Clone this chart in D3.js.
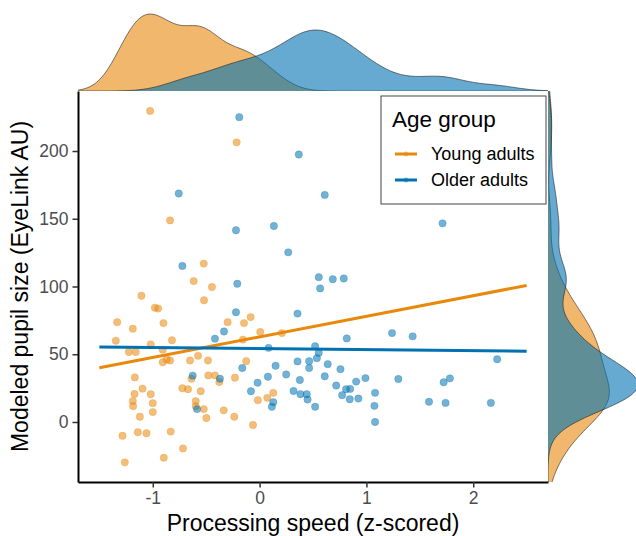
<!DOCTYPE html>
<html>
<head>
<meta charset="utf-8">
<script src="https://cdn.jsdelivr.net/npm/d3@7"></script>
<style>
  body { margin: 0; background: #fff; }
  svg { display: block; font-family: "Liberation Sans", Arial, sans-serif; }
</style>
</head>
<body>
<svg id="chart" width="636" height="536"></svg>
<script>
// Group names and colours
const groups = ["Young adults", "Older adults"];
const groupColors = ["#E8890C", "#0072B2"];

// Young adults: processing speed (z) and pupil size
const youngX = [-1.025, -0.215, -0.838, -0.523, -0.617, -0.446, -1.106, -0.98, -0.95, -0.52,
  -1.333, -0.9, -0.299, -0.146, -0.084, -1.187, 0.006, 0.209, -1.346, -1.019,
  -0.82, -0.156, -1.224, -1.159, -0.907, -0.576, -0.869, -0.838, -0.907, -0.651,
  -0.483, -0.125, -1.168, -0.638, -0.48, -0.418, -0.377, -0.231, -1.096, -0.723,
  -0.67, -0.551, -1.171, -1.019, 0.128, 0.072, -0.016, -1.187, -1.184, -1.0,
  -1.0, -0.598, -0.598, -0.523, -0.336, -1.121, -0.498, -0.237, -0.062, -1.283,
  -1.14, -1.059, -0.832, -0.717, -0.897, -1.262];
const youngY = [229.6, 206.4, 148.8, 116.9, 104, 99.6, 93.2, 84.4, 83.7, 89.8,
  73.7, 73, 73.7, 73, 77.4, 68.8, 66.4, 65.6, 60, 57.3,
  60.3, 60.8, 51.7, 51.7, 53.4, 48.8, 46.1, 45.4, 44.1, 45.4,
  45.4, 44.9, 32.9, 31.9, 34.4, 34.4, 29.5, 32.7, 24.6, 24.9,
  24.2, 22.7, 20.7, 20.5, 21.5, 17.8, 16.1, 15.4, 11.7, 13.9,
  7.3, 15.4, 11.7, 9.5, 8.6, 3.9, 2.9, 3.9, -2.2, -10.2,
  -7.6, -8.3, -7.1, -19.5, -26.4, -29.8];

// Older adults
const olderX = [-0.19, 0.367, -0.757, -0.221, 0.134, 0.268, -0.723, -0.209, 0.61, 1.713,
  0.554, 0.685, 0.788, 0.567, -0.221, 0.355, -0.333, -0.418, 0.084, 0.355,
  0.464, -0.162, 0.15, 0.464, -0.626, -0.371, 0.078, 0.249, 0.377, -0.019,
  -0.081, 0.318, 0.383, 0.442, 0.449, 0.128, 0.115, -0.586, 1.24, 1.433,
  0.816, 0.52, 0.554, 0.536, 2.224, 0.638, 0.757, 0.61, 0.991, 1.299,
  1.782, 1.723, 0.904, 0.717, 0.81, 0.848, 0.773, 0.844, 0.925, 1.081,
  1.075, 1.081, 0.52, 1.586, 1.741, 2.165];
const olderY = [225, 197.4, 168.6, 141.5, 144.7, 125.2, 115.2, 102, 167.6, 146.6,
  106.9, 105.4, 105.9, 98.6, 81, 80, 66.8, 61.5, 54.7, 44.7,
  44.9, 39.8, 41.5, 39.8, 34.2, 31.9, 33.4, 35.1, 31, 29,
  22.7, 22.9, 20.5, 20.5, 16.6, 14.6, 11.2, 9.5, 65.6, 63.2,
  61.7, 55.9, 51, 47.1, 46.3, 42.7, 39, 33.7, 32.4, 31.7,
  32.2, 29.3, 29.8, 26.9, 24.2, 24.4, 19.8, 16.8, 17.3, 21.5,
  11.9, 0, 11.2, 14.9, 14.1, 14.1];

// Fitted lines (full range), endpoints
const fitX = [-1.5, 2.5];
const youngFitY = [40, 100.8];
const olderFitY = [55.4, 52.2];

// Axis ticks
const xTicks = [-1, 0, 1, 2];
const xTickLabels = ["-1", "0", "1", "2"];
const yTicks = [0, 50, 100, 150, 200];
const yTickLabels = ["0", "50", "100", "150", "200"];

const svg = d3.select("#chart");

// Main panel
const panel = { left: 78, right: 548, top: 91, bottom: 482 };
const x = d3.scaleLinear().domain([-1.7, 2.7]).range([panel.left, panel.right]);
const y = d3.scaleLinear().domain([-44.3, 244.3]).range([panel.bottom, panel.top]);

const series = [
  { name: groups[0], color: groupColors[0], xs: youngX, ys: youngY, fit: youngFitY },
  { name: groups[1], color: groupColors[1], xs: olderX, ys: olderY, fit: olderFitY }
];

// Kernel density (gaussian, bw.nrd0 like R)
function bwNrd0(v) {
  const s = d3.deviation(v);
  const sorted = v.slice().sort(d3.ascending);
  const iqr = d3.quantileSorted(sorted, 0.75) - d3.quantileSorted(sorted, 0.25);
  return 0.9 * Math.min(s, iqr / 1.34) * Math.pow(v.length, -0.2);
}
function kde(v, lo, hi, n) {
  const bw = bwNrd0(v);
  const out = [];
  for (let i = 0; i < n; i++) {
    const t = lo + (hi - lo) * i / (n - 1);
    let s = 0;
    for (const d of v) {
      const u = (t - d) / bw;
      s += Math.exp(-0.5 * u * u);
    }
    out.push([t, s / (v.length * bw * Math.sqrt(2 * Math.PI))]);
  }
  return out;
}

const topDens = series.map(s => kde(s.xs, x.domain()[0], x.domain()[1], 256));
const rightDens = series.map(s => kde(s.ys, y.domain()[0], y.domain()[1], 256));

// Top marginal
const maxTop = d3.max(topDens, d => d3.max(d, p => p[1]));
const yTop = d3.scaleLinear().domain([0, maxTop]).range([panel.top, 14]);
const gTop = svg.append("g");
topDens.forEach((dens, i) => {
  gTop.append("path")
    .datum(dens)
    .attr("fill", series[i].color)
    .attr("fill-opacity", 0.6)
    .attr("d", d3.area().x(d => x(d[0])).y0(yTop(0)).y1(d => yTop(d[1])).curve(d3.curveBasis));
  gTop.append("path")
    .datum(dens)
    .attr("fill", "none")
    .attr("stroke", "#222")
    .attr("stroke-width", 0.6)
    .attr("d", d3.line().x(d => x(d[0])).y(d => yTop(d[1])).curve(d3.curveBasis));
});

// Right marginal
const maxRight = d3.max(rightDens, d => d3.max(d, p => p[1]));
const xRight = d3.scaleLinear().domain([0, maxRight]).range([panel.right, 638]);
const gRight = svg.append("g");
rightDens.forEach((dens, i) => {
  gRight.append("path")
    .datum(dens)
    .attr("fill", series[i].color)
    .attr("fill-opacity", 0.6)
    .attr("d", d3.area().y(d => y(d[0])).x0(xRight(0)).x1(d => xRight(d[1])).curve(d3.curveBasis));
  gRight.append("path")
    .datum(dens)
    .attr("fill", "none")
    .attr("stroke", "#222")
    .attr("stroke-width", 0.6)
    .attr("d", d3.line().y(d => y(d[0])).x(d => xRight(d[1])).curve(d3.curveBasis));
});

// Panel background
svg.append("rect")
  .attr("x", panel.left).attr("y", panel.top)
  .attr("width", panel.right - panel.left).attr("height", panel.bottom - panel.top)
  .attr("fill", "#fff");

// Points
series.forEach(s => {
  svg.append("g").selectAll("circle")
    .data(s.xs.map((v, i) => [v, s.ys[i]]))
    .join("circle")
    .attr("cx", d => x(d[0]))
    .attr("cy", d => y(d[1]))
    .attr("r", 3.7)
    .attr("fill", s.color)
    .attr("fill-opacity", 0.55)
    .attr("stroke", s.color)
    .attr("stroke-opacity", 0.25)
    .attr("stroke-width", 1);
});

// Fitted lines
series.forEach(s => {
  svg.append("path")
    .datum(fitX.map((v, i) => [v, s.fit[i]]))
    .attr("fill", "none")
    .attr("stroke", s.color)
    .attr("stroke-width", 3)
    .attr("d", d3.line().x(d => x(d[0])).y(d => y(d[1])));
});

// Axes
const xAxis = svg.append("g")
  .attr("transform", `translate(0,${panel.bottom})`)
  .call(d3.axisBottom(x).tickValues(xTicks).tickFormat((d, i) => xTickLabels[i])
    .tickSize(5.5).tickSizeOuter(0).tickPadding(4));
const yAxis = svg.append("g")
  .attr("transform", `translate(${panel.left},0)`)
  .call(d3.axisLeft(y).tickValues(yTicks).tickFormat((d, i) => yTickLabels[i])
    .tickSize(5.5).tickSizeOuter(0).tickPadding(4));

[xAxis, yAxis].forEach(a => {
  a.select(".domain").attr("stroke", "#000").attr("stroke-width", 2);
  a.selectAll(".tick line").attr("stroke", "#333").attr("stroke-width", 1.5);
  a.selectAll(".tick text")
    .attr("fill", "#4D4D4D")
    .style("font-size", "17.5px")
    .style("font-family", "Liberation Sans, Arial, sans-serif");
});

// Axis titles
svg.append("text")
  .attr("x", (panel.left + panel.right) / 2)
  .attr("y", 531)
  .attr("text-anchor", "middle")
  .style("font-size", "23px")
  .text("Processing speed (z-scored)");

svg.append("text")
  .attr("transform", `translate(27.5,${(panel.top + panel.bottom) / 2}) rotate(-90)`)
  .attr("text-anchor", "middle")
  .style("font-size", "23px")
  .text("Modeled pupil size (EyeLink AU)");

// Legend
const legend = svg.append("g").attr("transform", "translate(381,96)");
legend.append("rect")
  .attr("width", 165).attr("height", 108)
  .attr("fill", "#fff")
  .attr("stroke", "#444")
  .attr("stroke-width", 1);
legend.append("text")
  .attr("x", 11).attr("y", 31)
  .style("font-size", "22.5px")
  .text("Age group");
series.forEach((s, i) => {
  const row = legend.append("g").attr("transform", `translate(0,${58 + i * 26})`);
  row.append("line")
    .attr("x1", 14).attr("x2", 36)
    .attr("stroke", s.color).attr("stroke-width", 3);
  row.append("circle")
    .attr("cx", 25).attr("r", 2.5)
    .attr("fill", s.color).attr("fill-opacity", 0.5);
  row.append("text")
    .attr("x", 50).attr("y", 6)
    .style("font-size", "18px")
    .text(s.name);
});
</script>
</body>
</html>
